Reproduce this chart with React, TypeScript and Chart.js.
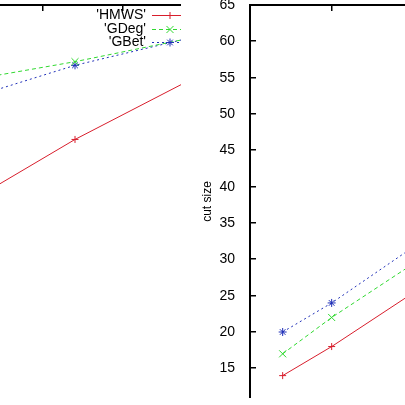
import React, { useEffect, useRef } from "react";
import { Chart, registerables } from "chart.js";
import { drawPoint } from "chart.js/helpers";

Chart.register(...registerables);

const FONT = '"Liberation Sans", Arial, Helvetica, sans-serif';

// ---- data ----
const seriesNames = ["'HMWS'", "'GDeg'", "'GBet'"];

// left panel (only its right part is visible)
const leftX = [10, 17, 25];
const leftHMWS = [37.4, 46.5, 55.6];
const leftGDeg = [54.5, 57.2, 60.8];
const leftGBet = [51.9, 56.7, 60.9];

// right panel (only its left part is visible)
const rightX = [2, 5, 10];
const rightHMWS = [14, 18, 25.4];
const rightGDeg = [17, 22, 29.4];
const rightGBet = [20, 24, 31.7];

const yMin = 10.92;
const yMax = 65;
const yStep = 5;
const xStep = 5;
const leftXMin = 0;
const leftXMax = 23.625;
const rightXMin = 0;
const rightXMax = 15;
const yTitle = "cut size";

// ---- styles ----
const seriesColors = ["#d81e2c", "#30d830", "#2030b8"];
const seriesDash: number[][] = [[], [4, 3], [2, 3]];
const seriesPointStyle = ["cross", "crossRot", "star"];
const seriesPointRadius = [3.5, 5, 4];

function makeDatasets(xs: number[], ys: number[][]) {
  return ys.map((vals, i) => ({
    label: seriesNames[i],
    data: xs.map((x, j) => ({ x, y: vals[j] })),
    borderColor: seriesColors[i],
    backgroundColor: seriesColors[i],
    borderWidth: 1,
    borderDash: seriesDash[i],
    pointStyle: seriesPointStyle[i],
    pointRadius: seriesPointRadius[i],
    pointBorderWidth: 1,
    pointBorderColor: seriesColors[i],
    tension: 0,
    fill: false,
    clip: 0,
  }));
}

function tickValues(min: number, max: number, step: number) {
  const out: number[] = [];
  for (let v = Math.ceil(min / step) * step; v <= max + 1e-9; v += step) out.push(v);
  return out;
}

const zeroPad = (scale: any) => {
  scale.paddingTop = 0;
  scale.paddingBottom = 0;
  scale.paddingLeft = 0;
  scale.paddingRight = 0;
};

const framePlugin = (drawLeftAxis: boolean, drawLegend: boolean, xMin: number, xMax: number) => ({
  id: "gnuplotFrame",
  afterDraw(chart: any) {
    const { ctx, chartArea } = chart;
    const xs = chart.scales.x;
    const ys = chart.scales.y;
    ctx.save();
    ctx.setLineDash([]);
    ctx.fillStyle = "#000";
    // borders
    ctx.fillRect(chartArea.left, chartArea.top - 1, chartArea.right - chartArea.left, 2);
    if (drawLeftAxis) {
      ctx.fillRect(chartArea.left - 1, chartArea.top - 1, 2, chartArea.bottom - chartArea.top + 1);
    }
    // inward tick marks
    tickValues(xMin, xMax, xStep).forEach((v) => {
      const px = Math.round(xs.getPixelForValue(v));
      ctx.fillRect(px - 1, chartArea.top, 1.5, 6);
    });
    if (drawLeftAxis) {
      tickValues(yMin, yMax, yStep).forEach((v) => {
        const py = Math.round(ys.getPixelForValue(v));
        ctx.fillRect(chartArea.left, py - 1, 6, 1.5);
      });
    }

    if (drawLegend) {
      const right = chartArea.right;
      const rowY = [10, 24, 37];
      chart.data.datasets.forEach((ds: any, i: number) => {
        const y = chartArea.top + rowY[i];
        ctx.fillStyle = "#000";
        ctx.font = `14px ${FONT}`;
        ctx.textAlign = "right";
        ctx.textBaseline = "middle";
        ctx.fillText(ds.label, right - 35, y + 0.5);
        ctx.strokeStyle = ds.borderColor;
        ctx.lineWidth = 1;
        ctx.setLineDash(ds.borderDash);
        ctx.beginPath();
        ctx.moveTo(right - 29, y + 0.5);
        ctx.lineTo(right, y + 0.5);
        ctx.stroke();
        ctx.setLineDash([]);
        drawPoint(
          ctx,
          { pointStyle: ds.pointStyle, radius: ds.pointRadius, rotation: 0, borderWidth: 1 } as any,
          right - 11,
          y + 0.5
        );
      });
    }
    ctx.restore();
  },
});

export default function App() {
  const leftRef = useRef<HTMLCanvasElement>(null);
  const rightRef = useRef<HTMLCanvasElement>(null);

  useEffect(() => {
    Chart.defaults.font.family = FONT;
    const leftChart = new Chart(leftRef.current!, {
      type: "line",
      data: { datasets: makeDatasets(leftX, [leftHMWS, leftGDeg, leftGBet]) as any },
      options: {
        animation: false,
        responsive: false,
        devicePixelRatio: 1,
        layout: { autoPadding: false, padding: { top: 5, bottom: 7, left: 0, right: 0 } },
        plugins: { legend: { display: false }, tooltip: { enabled: false } },
        scales: {
          x: {
            type: "linear",
            display: false,
            min: leftXMin,
            max: leftXMax,
            ticks: { stepSize: xStep, includeBounds: false, display: false },
            afterFit: zeroPad,
          },
          y: {
            type: "linear",
            display: false,
            min: yMin,
            max: yMax,
            ticks: { stepSize: yStep, includeBounds: false, display: false },
            afterFit: zeroPad,
          },
        },
      } as any,
      plugins: [framePlugin(false, true, leftXMin, leftXMax)],
    });

    const rightChart = new Chart(rightRef.current!, {
      type: "line",
      data: { datasets: makeDatasets(rightX, [rightHMWS, rightGDeg, rightGBet]) as any },
      options: {
        animation: false,
        responsive: false,
        devicePixelRatio: 1,
        layout: { autoPadding: false, padding: { top: 5, bottom: 7, left: 0, right: 0 } },
        plugins: { legend: { display: false }, tooltip: { enabled: false } },
        scales: {
          x: {
            type: "linear",
            display: false,
            min: rightXMin,
            max: rightXMax,
            ticks: { stepSize: xStep, includeBounds: false, display: false },
            afterFit: zeroPad,
          },
          y: {
            type: "linear",
            position: "left",
            min: yMin,
            max: yMax,
            grid: { display: false },
            border: { display: false },
            ticks: {
              stepSize: yStep,
              includeBounds: false,
              padding: 7,
              color: "#000",
              font: { size: 14, family: FONT },
            },
            title: {
              display: true,
              text: yTitle,
              color: "#000",
              padding: { top: 0, bottom: 0 },
              font: { size: 12, family: FONT },
            },
            afterFit: (scale: any) => {
              scale.width = 50;
              zeroPad(scale);
            },
          },
        },
      } as any,
      plugins: [framePlugin(true, false, rightXMin, rightXMax)],
    });

    return () => {
      leftChart.destroy();
      rightChart.destroy();
    };
  }, []);

  return (
    <div
      style={{
        position: "fixed",
        left: 0,
        top: 0,
        width: 405,
        height: 405,
        overflow: "hidden",
        background: "#fff",
      }}
    >
      <canvas
        ref={leftRef}
        width={378}
        height={405}
        style={{ position: "absolute", left: -197, top: 0, width: 378, height: 405 }}
      />
      <canvas
        ref={rightRef}
        width={295}
        height={405}
        style={{ position: "absolute", left: 200, top: 0, width: 295, height: 405 }}
      />
    </div>
  );
}
